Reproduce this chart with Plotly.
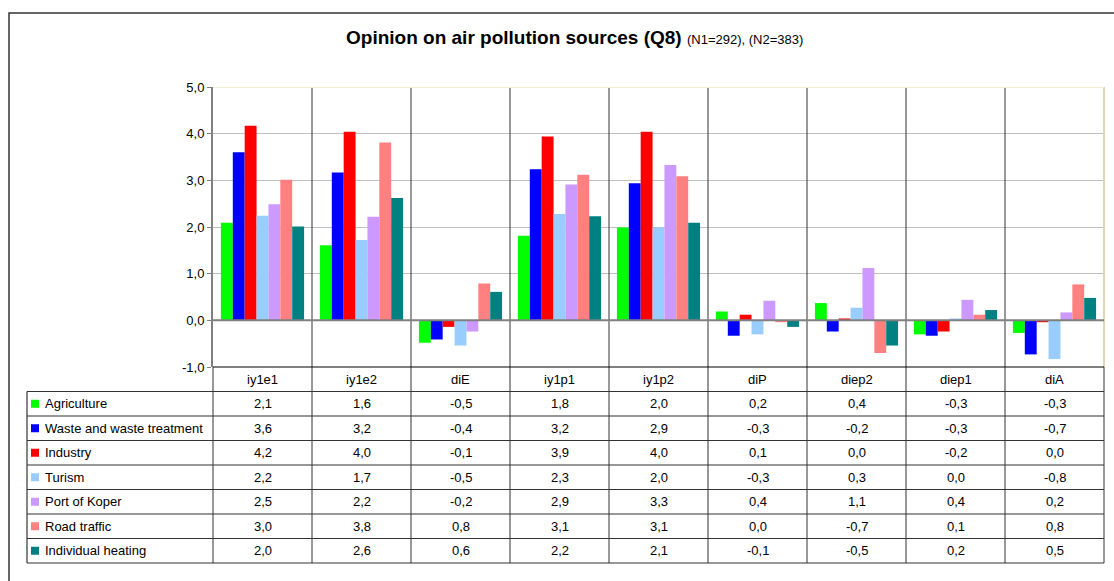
import plotly.graph_objects as go

# --- data ---
categories = ["iy1e1", "iy1e2", "diE", "iy1p1", "iy1p2", "diP", "diep2", "diep1", "diA"]

agriculture = [2.09, 1.61, -0.48, 1.81, 1.99, 0.19, 0.37, -0.30, -0.27]
waste = [3.60, 3.17, -0.41, 3.24, 2.94, -0.33, -0.24, -0.33, -0.73]
industry = [4.17, 4.04, -0.14, 3.94, 4.04, 0.12, 0.04, -0.24, -0.04]
turism = [2.24, 1.72, -0.54, 2.28, 1.99, -0.30, 0.27, 0.04, -0.83]
port_koper = [2.49, 2.22, -0.24, 2.91, 3.33, 0.42, 1.12, 0.44, 0.17]
road_traffic = [3.01, 3.81, 0.79, 3.12, 3.09, -0.04, -0.70, 0.12, 0.77]
heating = [2.01, 2.62, 0.61, 2.23, 2.09, -0.14, -0.54, 0.22, 0.48]

series_names = ["Agriculture", "Waste and waste treatment", "Industry", "Turism",
                "Port of Koper", "Road traffic", "Individual heating"]
series_values = [agriculture, waste, industry, turism, port_koper, road_traffic, heating]
colors = ["#00ff00", "#0000ff", "#ff0000", "#99ccff", "#cc99ff", "#ff8080", "#008080"]

y_ticks = [-1, 0, 1, 2, 3, 4, 5]

FONT = "Arial, Liberation Sans, sans-serif"
FS = 13

# --- page geometry (pixels) ---
W, H = 1114, 581
ML, MR, MT, MB = 213, 10, 87, 18
PW = W - ML - MR
PH = H - MT - MB
TABLE_H = 196
ft = TABLE_H / PH          # share of the plot height used by the data table
n_rows = len(series_names) + 1
row_h = ft / n_rows
n_cat = len(categories)


def px_x(p):  # page pixel x -> paper x
    return (p - ML) / PW


def px_y(p):  # page pixel y -> paper y
    return (H - MB - p) / PH


def row_mid(r):
    return ft - (r + 0.5) * row_h


def row_top(r):
    return ft - r * row_h


def fmt(v):
    s = f"{v:.1f}"
    if s == "-0.0":
        s = "0.0"
    return s.replace(".", ",")


fig = go.Figure()
for name, vals, col in zip(series_names, series_values, colors):
    fig.add_trace(go.Bar(x=categories, y=vals, name=name, marker_color=col,
                         marker_line_width=0))

shapes = []
annotations = []
LINE = "#333333"

# vertical separators between categories (plot + table)
for k in range(1, n_cat):
    shapes.append(dict(type="line", xref="paper", yref="paper", x0=k / n_cat, x1=k / n_cat,
                       y0=0, y1=1, line=dict(color=LINE, width=1)))
# left border of table under the y axis
shapes.append(dict(type="line", xref="paper", yref="paper", x0=0, x1=0, y0=0, y1=ft,
                   line=dict(color=LINE, width=1)))
# right edge of table
shapes.append(dict(type="line", xref="paper", yref="paper", x0=1, x1=1, y0=0, y1=ft,
                   line=dict(color="#777777", width=1.5)))
# right edge of plot area (beige)
shapes.append(dict(type="line", xref="paper", yref="paper", x0=1, x1=1, y0=ft, y1=1,
                   line=dict(color="#dcd8b4", width=2)))
# top edge of plot area (beige)
shapes.append(dict(type="line", xref="paper", yref="y", x0=0, x1=1, y0=5, y1=5,
                   line=dict(color="#f2eed4", width=2)))
# zero line above bars
shapes.append(dict(type="line", xref="paper", yref="y", x0=0, x1=1, y0=0, y1=0,
                   line=dict(color="#808080", width=2), layer="above"))
# table header top line (at -1)
shapes.append(dict(type="line", xref="paper", yref="paper", x0=0, x1=1, y0=ft, y1=ft,
                   line=dict(color="#000000", width=1.2)))
# horizontal row lines
for r in range(1, n_rows + 1):
    shapes.append(dict(type="line", xref="paper", yref="paper", x0=px_x(27), x1=1,
                       y0=row_top(r), y1=row_top(r), line=dict(color=LINE, width=1.2)))
# left edge of legend column
shapes.append(dict(type="line", xref="paper", yref="paper", x0=px_x(27), x1=px_x(27),
                   y0=0, y1=row_top(1), line=dict(color=LINE, width=1.2)))
# outer border
shapes.append(dict(type="rect", xref="paper", yref="paper", x0=px_x(9), x1=px_x(1130),
                   y0=px_y(600), y1=px_y(13), line=dict(color="#333333", width=1.5)))

# header cells
for c in categories:
    annotations.append(dict(x=c, xref="x", y=row_mid(0), yref="paper", text=c,
                            xanchor="center", yanchor="middle", showarrow=False,
                            font=dict(size=FS, color="#000000", family=FONT)))

# data rows with legend keys
for i, (name, vals, col) in enumerate(zip(series_names, series_values, colors)):
    r = i + 1
    ym = row_mid(r)
    sq = 4.5 / PH
    shapes.append(dict(type="rect", xref="paper", yref="paper", x0=px_x(31), x1=px_x(39),
                       y0=ym - sq + 0.5 / PH, y1=ym + sq - 0.5 / PH,
                       fillcolor=col, line=dict(width=0)))
    annotations.append(dict(x=px_x(43), xref="paper", y=ym, yref="paper", text=name,
                            xanchor="left", yanchor="middle", showarrow=False,
                            font=dict(size=FS, color="#000000", family=FONT)))
    for c, v in zip(categories, vals):
        annotations.append(dict(x=c, xref="x", y=ym, yref="paper", text=fmt(v),
                                xanchor="center", yanchor="middle", showarrow=False,
                                font=dict(size=FS, color="#000000", family=FONT)))

# title
annotations.append(dict(
    x=px_x(344), xref="paper", y=px_y(38), yref="paper", showarrow=False,
    xanchor="left", yanchor="middle",
    text="<b>Opinion on air pollution sources (Q8)</b> "
         "<span style='font-size:13px'>(N1=292), (N2=383)</span>",
    font=dict(size=19, color="#000000", family=FONT)))

fig.update_layout(
    width=W, height=H,
    margin=dict(l=ML, r=MR, t=MT, b=MB),
    paper_bgcolor="white", plot_bgcolor="white",
    separators=", ",
    barmode="group", bargap=0.16, bargroupgap=0,
    showlegend=False,
    font=dict(family=FONT, size=FS, color="#000000"),
    xaxis=dict(showticklabels=False, showgrid=False, zeroline=False, showline=False,
               ticks="", fixedrange=True),
    yaxis=dict(domain=[ft, 1], range=[-1, 5], tickvals=y_ticks,
               ticktext=[fmt(v) for v in y_ticks],
               showgrid=True, gridcolor="#c0c0c0", gridwidth=1, zeroline=False,
               showline=True, linecolor="#808080", linewidth=2,
               ticks="outside", ticklen=4, tickcolor="#808080",
               tickfont=dict(size=FS, color="#000000", family=FONT)),
    shapes=shapes,
    annotations=annotations,
)

# the page body has a default 8px margin; drop it so the figure sits at 0,0
fig.write_html("out.html", config={"displayModeBar": False},
               post_script="document.body.style.margin='0';")
